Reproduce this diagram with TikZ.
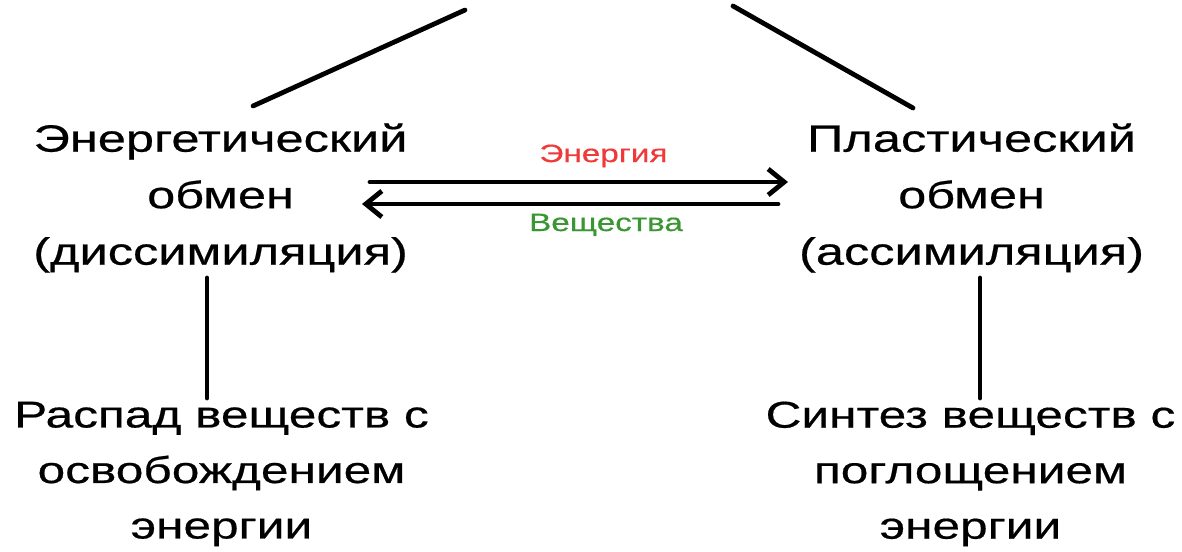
\documentclass[tikz,border=0pt]{standalone}
\usepackage{fontspec}
\setmainfont{Liberation Sans}[FakeStretch=1.33,FakeBold=0.5]
\usetikzlibrary{arrows.meta}
\definecolor{enred}{RGB}{238,58,58}
\definecolor{vgreen}{RGB}{58,150,50}
\tikzset{
  main/.style={align=center, inner sep=0pt, font=\fontsize{38}{56.5}\selectfont},
  bottom/.style={align=center, inner sep=0pt, font=\fontsize{37.3}{55.5}\selectfont},
  conn/.style={line width=4.8pt, line cap=round},
  flow/.style={line width=4.8pt, line cap=round, -{Straight Barb[length=16pt,width=26pt,line width=4.8pt]}},
  lab/.style={inner sep=0pt, anchor=base, font=\fontsize{25}{30}\selectfont}
}
\begin{document}
\begin{tikzpicture}[x=1pt,y=-1pt]
\useasboundingbox (0,0) rectangle (1182,551);
\node[main] (E) at (220.5,198) {Энергетический\\обмен\\(диссимиляция)};
\node[main] (P) at (971.5,198) {Пластический\\обмен\\(ассимиляция)};
\node[bottom] (R) at (221.5,474) {Распад веществ с\\освобождением\\энергии};
\node[bottom] (S) at (970.5,474) {Синтез веществ с\\поглощением\\энергии};
\coordinate (tl) at (465,10);
\coordinate (tr) at (733,6);
\coordinate (el) at (253,106);
\coordinate (pr) at (913,108);
\draw[conn] (tl) -- (el);
\draw[conn] (tr) -- (pr);
\coordinate (a1s) at (370,182);
\coordinate (a1e) at (788,182);
\coordinate (a2s) at (778,204);
\coordinate (a2e) at (362,204);
\draw[flow] (a1s) -- (a1e);
\draw[flow] (a2s) -- (a2e);
\node[lab, text=enred] (en) at (603.5,162) {Энергия};
\node[lab, text=vgreen] (vs) at (606,231) {Вещества};
\coordinate (d1s) at (207,278);
\coordinate (d1e) at (207,398);
\coordinate (d2s) at (980,278);
\coordinate (d2e) at (980,398);
\draw[conn] (d1s) -- (d1e);
\draw[conn] (d2s) -- (d2e);
\end{tikzpicture}
\end{document}
